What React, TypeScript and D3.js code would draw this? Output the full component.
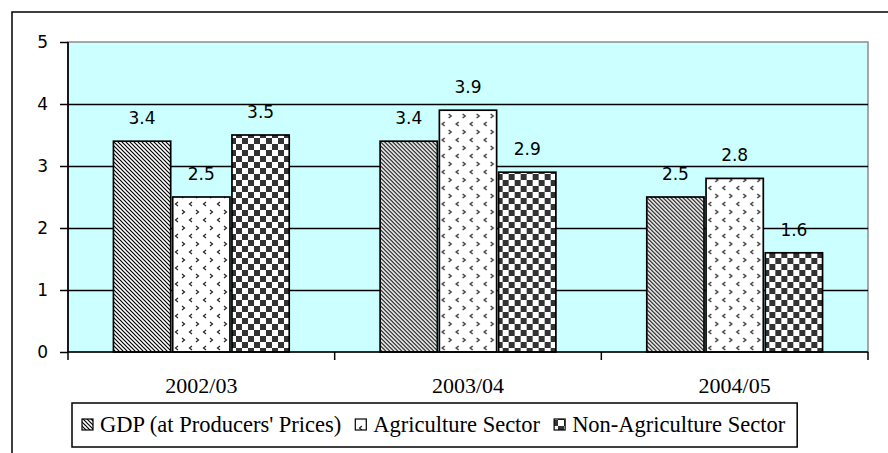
import * as d3 from "d3";
import { useEffect, useRef } from "react";

const categories = ["2002/03", "2003/04", "2004/05"];
const seriesNames = ["GDP (at Producers' Prices)", "Agriculture Sector", "Non-Agriculture Sector"];
const gdp = [3.4, 3.4, 2.5];
const agriculture = [2.5, 3.9, 2.8];
const nonAgriculture = [3.5, 2.9, 1.6];
const yTicks = [0, 1, 2, 3, 4, 5];

const patternIds = ["pat-diag", "pat-dots", "pat-check"];

export default function App() {
  const svgRef = useRef<SVGSVGElement | null>(null);

  useEffect(() => {
    if (!svgRef.current) return;
    const width = 888;
    const height = 453;
    const plot = { left: 68, right: 868, top: 42, bottom: 352 };
    const serif = "'Liberation Serif', 'Times New Roman', Times, serif";
    const sans = "'DejaVu Sans', sans-serif";

    d3.select(svgRef.current).selectAll("*").remove();
    const svg = d3.select(svgRef.current).attr("width", width).attr("height", height);

    // fill patterns
    const defs = svg.append("defs");
    const diag = defs
      .append("pattern")
      .attr("id", patternIds[0])
      .attr("patternUnits", "userSpaceOnUse")
      .attr("width", 4)
      .attr("height", 4);
    diag.append("rect").attr("width", 4).attr("height", 4).attr("fill", "#fff");
    diag
      .append("path")
      .attr("d", "M-1,-1L5,5M-1,3L1,5M3,-1L5,1")
      .attr("stroke", "#000")
      .attr("stroke-width", 1.2);

    const dots = defs
      .append("pattern")
      .attr("id", patternIds[1])
      .attr("patternUnits", "userSpaceOnUse")
      .attr("width", 14)
      .attr("height", 16);
    dots.append("rect").attr("width", 14).attr("height", 16).attr("fill", "#fff");
    dots
      .append("path")
      .attr("d", "M2,2L4.5,4L2,6M12,10L9.5,12L12,14")
      .attr("fill", "none")
      .attr("stroke", "#222")
      .attr("stroke-width", 1.2);

    const check = defs
      .append("pattern")
      .attr("id", patternIds[2])
      .attr("patternUnits", "userSpaceOnUse")
      .attr("width", 12)
      .attr("height", 12);
    check.append("rect").attr("width", 12).attr("height", 12).attr("fill", "#fff");
    check.append("rect").attr("width", 6).attr("height", 6).attr("fill", "#333");
    check.append("rect").attr("x", 6).attr("y", 6).attr("width", 6).attr("height", 6).attr("fill", "#333");

    // chart border
    svg
      .append("rect")
      .attr("x", 12)
      .attr("y", 12)
      .attr("width", width)
      .attr("height", height)
      .attr("fill", "#fff")
      .attr("stroke", "#000")
      .attr("stroke-width", 1.5);

    const x0 = d3.scaleBand<string>().domain(categories).range([plot.left, plot.right]).padding(0);
    const x1 = d3
      .scaleBand<string>()
      .domain(seriesNames)
      .range([0, x0.bandwidth()])
      .paddingInner(0)
      .paddingOuter(0.75);
    const y = d3.scaleLinear().domain([0, 5]).range([plot.bottom, plot.top]);

    // plot area
    svg
      .append("rect")
      .attr("x", plot.left)
      .attr("y", plot.top)
      .attr("width", plot.right - plot.left)
      .attr("height", plot.bottom - plot.top)
      .attr("fill", "#ccffff")
      .attr("stroke", "#8c8c8c")
      .attr("stroke-width", 1.5);

    // gridlines
    svg
      .append("g")
      .selectAll("line")
      .data(yTicks.filter((t) => t > 0 && t < 5))
      .join("line")
      .attr("x1", plot.left)
      .attr("x2", plot.right)
      .attr("y1", (d) => Math.round(y(d)) + 0.5)
      .attr("y2", (d) => Math.round(y(d)) + 0.5)
      .attr("stroke", "#000")
      .attr("stroke-width", 1.5);

    // bars
    const series = [gdp, agriculture, nonAgriculture];
    const groups = svg
      .append("g")
      .selectAll("g")
      .data(categories)
      .join("g")
      .attr("transform", (d) => `translate(${x0(d)},0)`);

    groups
      .selectAll("rect")
      .data((_, i) => seriesNames.map((name, s) => ({ name, s, value: series[s][i] })))
      .join("rect")
      .attr("x", (d) => x1(d.name)! + 1)
      .attr("y", (d) => y(d.value))
      .attr("width", x1.bandwidth() - 2)
      .attr("height", (d) => y(0) - y(d.value))
      .attr("fill", (d) => `url(#${patternIds[d.s]})`)
      .attr("stroke", "#000")
      .attr("stroke-width", 1.7);

    groups
      .selectAll("text")
      .data((_, i) => seriesNames.map((name, s) => ({ name, s, value: series[s][i] })))
      .join("text")
      .attr("x", (d) => x1(d.name)! + x1.bandwidth() / 2)
      .attr("y", (d) => y(d.value) - 17)
      .attr("text-anchor", "middle")
      .style("font-family", sans)
      .style("font-size", "17px")
      .attr("fill", "#000")
      .text((d) => d.value.toFixed(1));

    // y axis
    const yAxis = svg
      .append("g")
      .attr("transform", `translate(${plot.left},0)`)
      .call(d3.axisLeft(y).tickValues(yTicks).tickSize(8).tickPadding(12).tickFormat(d3.format("d")));
    yAxis.select(".domain").attr("stroke", "#000").attr("stroke-width", 1.7).attr("d", `M0,${plot.top}V${plot.bottom}`);
    yAxis.selectAll(".tick line").attr("stroke", "#000").attr("stroke-width", 1.5);
    yAxis.selectAll("text").style("font-family", sans).style("font-size", "17px").attr("fill", "#000");

    // x axis
    const xAxis = svg
      .append("g")
      .attr("transform", `translate(0,${plot.bottom})`)
      .call(d3.axisBottom(x0).tickSize(0).tickPadding(41));
    xAxis.select(".domain").attr("stroke", "#000").attr("stroke-width", 1.7).attr("d", `M${plot.left},0H${plot.right}`);
    xAxis
      .selectAll("text")
      .style("font-family", serif)
      .style("font-size", "22px")
      .attr("fill", "#000")
      .attr("dy", 0);
    const boundaries = [...categories.map((c) => x0(c)!), plot.right];
    xAxis
      .selectAll(".cat-tick")
      .data(boundaries)
      .join("line")
      .attr("class", "cat-tick")
      .attr("x1", (d) => d)
      .attr("x2", (d) => d)
      .attr("y1", 0)
      .attr("y2", 8)
      .attr("stroke", "#000")
      .attr("stroke-width", 1.5);

    // legend
    const legend = svg.append("g");
    const box = legend
      .append("rect")
      .attr("y", 403)
      .attr("height", 44)
      .attr("fill", "#fff")
      .attr("stroke", "#000")
      .attr("stroke-width", 1.5);
    let cursor = 82;
    seriesNames.forEach((name, s) => {
      legend
        .append("rect")
        .attr("x", cursor)
        .attr("y", 419)
        .attr("width", 11)
        .attr("height", 11)
        .attr("fill", `url(#${patternIds[s]})`)
        .attr("stroke", "#000")
        .attr("stroke-width", 1.2);
      const t = legend
        .append("text")
        .attr("x", cursor + 18)
        .attr("y", 432)
        .style("font-family", serif)
        .style("font-size", "22.5px")
        .attr("fill", "#000")
        .text(name);
      const w = (t.node() as SVGTextElement).getComputedTextLength();
      cursor = cursor + 18 + w + (s < seriesNames.length - 1 ? 14 : 12);
    });
    box.attr("x", 72).attr("width", cursor - 72);
  }, []);

  return <svg ref={svgRef} style={{ position: "absolute", left: 0, top: 0, display: "block" }} />;
}
